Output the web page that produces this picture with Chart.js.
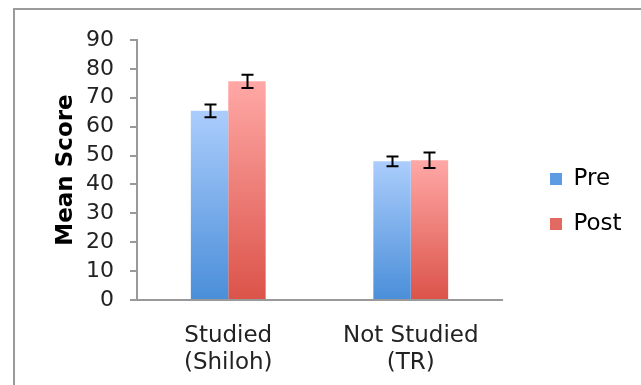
<!DOCTYPE html>
<html>
<head>
<meta charset="utf-8">
<script src="https://cdn.jsdelivr.net/npm/chart.js@4"></script>
<style>
    html, body { margin: 0; padding: 0; background: #fff; overflow: hidden; }
    #wrap { position: relative; width: 641px; height: 385px; }
    #frame {
        position: absolute; left: 13px; top: 8px; width: 800px; height: 600px;
        border-left: 2px solid #9a9a9a; border-top: 2px solid #9a9a9a;
    }
    canvas { position: absolute; left: 0; top: 0; }
</style>
</head>
<body>
<div id="wrap">
    <div id="frame"></div>
    <canvas id="myChart" width="641" height="385"></canvas>
</div>
<script>
const categories = [['Studied', '(Shiloh)'], ['Not Studied', '(TR)']];
const preScores = [65.5, 48];
const postScores = [75.7, 48.4];
const preErrors = [2.2, 1.7];
const postErrors = [2.3, 2.7];
const yTicks = [0, 10, 20, 30, 40, 50, 60, 70, 80, 90];

const fontFamily = '"DejaVu Sans", Verdana, sans-serif';

function barGradient(top, bottom) {
    return function (context) {
        const chart = context.chart;
        const y = chart.scales.y;
        if (!y || context.parsed === undefined) return bottom;
        const ctx = chart.ctx;
        const yTop = y.getPixelForValue(context.parsed.y);
        const yBottom = y.getPixelForValue(0);
        const g = ctx.createLinearGradient(0, yTop, 0, yBottom);
        g.addColorStop(0, top);
        g.addColorStop(1, bottom);
        return g;
    };
}

// error bars drawn on top of the bars
const errorBars = {
    id: 'errorBars',
    afterDatasetsDraw(chart) {
        const ctx = chart.ctx;
        const y = chart.scales.y;
        const errs = [preErrors, postErrors];
        ctx.save();
        ctx.strokeStyle = '#000';
        ctx.lineWidth = 2;
        chart.data.datasets.forEach((ds, i) => {
            const meta = chart.getDatasetMeta(i);
            meta.data.forEach((bar, j) => {
                const v = ds.data[j];
                const hi = y.getPixelForValue(v + errs[i][j]);
                const lo = y.getPixelForValue(v - errs[i][j]);
                const x = Math.round(bar.x) + 0.5;
                ctx.beginPath();
                ctx.moveTo(x, hi); ctx.lineTo(x, lo);
                ctx.moveTo(x - 6, hi); ctx.lineTo(x + 6, hi);
                ctx.moveTo(x - 6, lo); ctx.lineTo(x + 6, lo);
                ctx.stroke();
            });
        });
        ctx.restore();
    }
};

// keep the legend to the right of a fixed plot area
const legendPlace = {
    id: 'legendPlace',
    afterInit(chart) {
        const lg = chart.legend;
        const fit = lg.fit.bind(lg);
        lg.fit = function () {
            fit();
            this.width = 139;
        };
    },
    afterLayout(chart) {
        const lg = chart.legend;
        lg.left += 26; lg.right += 26;
        lg.top -= 11; lg.bottom -= 11;
    }
};

new Chart(document.getElementById('myChart'), {
    type: 'bar',
    data: {
        labels: categories,
        datasets: [{
            label: 'Pre',
            data: preScores,
            backgroundColor: barGradient('#abcdfc', '#4a8ed9')
        }, {
            label: 'Post',
            data: postScores,
            backgroundColor: barGradient('#ffa8a6', '#db5349')
        }]
    },
    options: {
        responsive: false,
        animation: false,
        layout: { padding: { top: 40, left: 0, right: 0, bottom: 0 } },
        datasets: {
            bar: { categoryPercentage: 0.41, barPercentage: 1.0 }
        },
        scales: {
            x: {
                grid: { display: false },
                border: { color: '#999', width: 2 },
                ticks: {
                    color: '#222',
                    padding: 15,
                    font: { family: fontFamily, size: 23, lineHeight: 1.15 }
                },
                afterFit(scale) { scale.height = 85; }
            },
            y: {
                min: 0,
                max: 90,
                afterBuildTicks(scale) {
                    scale.ticks = yTicks.map(v => ({ value: v }));
                },
                grid: { drawOnChartArea: false, tickLength: 7, color: '#999', lineWidth: 2 },
                border: { color: '#999', width: 2 },
                ticks: {
                    autoSkip: false,
                    color: '#222',
                    padding: 16,
                    font: { family: fontFamily, size: 22 }
                },
                title: {
                    display: true,
                    text: 'Mean Score',
                    color: '#000',
                    padding: { top: 52, bottom: 0 },
                    font: { family: fontFamily, size: 23, weight: 'bold' }
                },
                afterFit(scale) { scale.width = 137; }
            }
        },
        plugins: {
            legend: {
                position: 'right',
                labels: {
                    boxWidth: 12,
                    boxHeight: 12,
                    padding: 22,
                    color: '#222',
                    font: { family: fontFamily, size: 23 },
                    generateLabels(chart) {
                        const fills = ['#5d9ce3', '#e26a62'];
                        return chart.data.datasets.map((ds, i) => ({
                            text: ds.label,
                            fillStyle: fills[i],
                            strokeStyle: fills[i],
                            lineWidth: 0,
                            hidden: false,
                            datasetIndex: i
                        }));
                    }
                }
            },
            tooltip: { enabled: false }
        }
    },
    plugins: [errorBars, legendPlace]
});
</script>
</body>
</html>
